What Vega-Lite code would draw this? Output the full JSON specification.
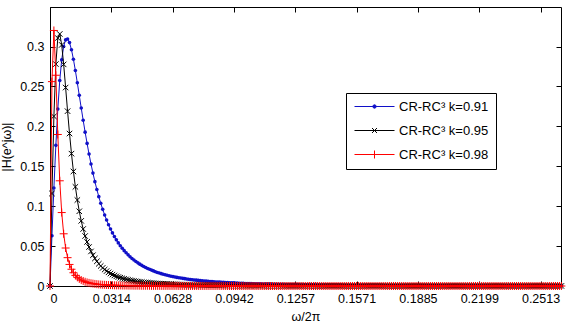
{
"$schema": "https://vega.github.io/schema/vega-lite/v6.json",
"width": 511, "height": 279,
"autosize": {"type": "none"},
"padding": {"left": 50, "top": 7, "right": 20, "bottom": 44},
"background": "white",
"config": {
 "font": "Liberation Sans",
 "view": {"stroke": "#000", "strokeWidth": 1},
 "axis": {"domainColor": "#000", "tickColor": "#000", "labelColor": "#000", "titleColor": "#000", "labelFont": "Liberation Sans", "titleFont": "Liberation Sans", "labelFontSize": 12.5, "titleFontSize": 12.5, "titleFontWeight": "normal", "grid": false, "tickSize": -5, "labelPadding": 11}
},
"data": {"values": [
{"f":0,"a":0,"b":0,"c":0},
{"f":0.001,"a":0.0630,"b":0.1159,"c":0.2560},
{"f":0.002,"a":0.1227,"b":0.2125,"c":0.3201},
{"f":0.003,"a":0.1762,"b":0.2780,"c":0.2640},
{"f":0.004,"a":0.2216,"b":0.3106,"c":0.1898},
{"f":0.005,"a":0.2574,"b":0.3157,"c":0.1318},
{"f":0.006,"a":0.2834,"b":0.3020,"c":0.0920},
{"f":0.007,"a":0.3001,"b":0.2776,"c":0.0654},
{"f":0.008,"a":0.3083,"b":0.2486,"c":0.0476},
{"f":0.009,"a":0.3095,"b":0.2190,"c":0.0355},
{"f":0.010,"a":0.3049,"b":0.1910,"c":0.0270},
{"f":0.011,"a":0.2960,"b":0.1658,"c":0.0210},
{"f":0.012,"a":0.2840,"b":0.1435,"c":0.0166},
{"f":0.013,"a":0.2699,"b":0.1242,"c":0.0133},
{"f":0.014,"a":0.2546,"b":0.1077,"c":0.0108},
{"f":0.015,"a":0.2388,"b":0.0936,"c":0.0089},
{"f":0.016,"a":0.2230,"b":0.0816,"c":0.0074},
{"f":0.017,"a":0.2076,"b":0.0714,"c":0.0063},
{"f":0.018,"a":0.1927,"b":0.0626,"c":0.0053},
{"f":0.019,"a":0.1786,"b":0.0552,"c":0.0045},
{"f":0.020,"a":0.1653,"b":0.0488,"c":0.0039},
{"f":0.021,"a":0.1529,"b":0.0433,"c":0.0034},
{"f":0.022,"a":0.1414,"b":0.0386,"c":0.0030},
{"f":0.023,"a":0.1307,"b":0.0345,"c":0.0026},
{"f":0.024,"a":0.1209,"b":0.0309,"c":0.0023},
{"f":0.025,"a":0.1119,"b":0.0278,"c":0.0020},
{"f":0.026,"a":0.1036,"b":0.0251,"c":0.0018},
{"f":0.027,"a":0.0960,"b":0.0227,"c":0.0016},
{"f":0.028,"a":0.0890,"b":0.0206,"c":0.0015},
{"f":0.029,"a":0.0826,"b":0.0187,"c":0.0013},
{"f":0.030,"a":0.0767,"b":0.0171,"c":0.0012},
{"f":0.031,"a":0.0714,"b":0.0156,"c":0.0011},
{"f":0.032,"a":0.0665,"b":0.0143,"c":0.0010},
{"f":0.033,"a":0.0619,"b":0.0132,"c":0.0009},
{"f":0.034,"a":0.0578,"b":0.0121,"c":0.0008},
{"f":0.035,"a":0.0540,"b":0.0112,"c":0.0008},
{"f":0.036,"a":0.0505,"b":0.0104,"c":0.0007},
{"f":0.037,"a":0.0473,"b":0.0096,"c":0.0006},
{"f":0.038,"a":0.0443,"b":0.0089,"c":0.0006},
{"f":0.039,"a":0.0416,"b":0.0083,"c":0.0006},
{"f":0.040,"a":0.0390,"b":0.0077,"c":0.0005},
{"f":0.041,"a":0.0367,"b":0.0072,"c":0.0005},
{"f":0.042,"a":0.0345,"b":0.0067,"c":0.0005},
{"f":0.043,"a":0.0325,"b":0.0063,"c":0.0004},
{"f":0.044,"a":0.0307,"b":0.0059,"c":0.0004},
{"f":0.045,"a":0.0290,"b":0.0055,"c":0.0004},
{"f":0.046,"a":0.0274,"b":0.0052,"c":0.0004},
{"f":0.047,"a":0.0259,"b":0.0049,"c":0.0003},
{"f":0.048,"a":0.0245,"b":0.0046,"c":0.0003},
{"f":0.049,"a":0.0232,"b":0.0043,"c":0.0003},
{"f":0.050,"a":0.0220,"b":0.0041,"c":0.0003},
{"f":0.051,"a":0.0209,"b":0.0039,"c":0.0003},
{"f":0.052,"a":0.0199,"b":0.0037,"c":0.0002},
{"f":0.053,"a":0.0189,"b":0.0035,"c":0.0002},
{"f":0.054,"a":0.0179,"b":0.0033,"c":0.0002},
{"f":0.055,"a":0.0170,"b":0.0031,"c":0.0002},
{"f":0.056,"a":0.0163,"b":0.0030,"c":0.0002},
{"f":0.057,"a":0.0155,"b":0.0028,"c":0.0002},
{"f":0.058,"a":0.0148,"b":0.0027,"c":0.0002},
{"f":0.059,"a":0.0141,"b":0.0025,"c":0.0002},
{"f":0.060,"a":0.0135,"b":0.0024,"c":0.0002},
{"f":0.061,"a":0.0129,"b":0.0023,"c":0.0002},
{"f":0.062,"a":0.0123,"b":0.0022,"c":0.0002},
{"f":0.063,"a":0.0118,"b":0.0021,"c":0.0002},
{"f":0.064,"a":0.0113,"b":0.0020,"c":0.0002},
{"f":0.065,"a":0.0108,"b":0.0019,"c":0.0002},
{"f":0.066,"a":0.0104,"b":0.0018,"c":0.0001},
{"f":0.067,"a":0.0100,"b":0.0018,"c":0.0001},
{"f":0.068,"a":0.0096,"b":0.0017,"c":0.0001},
{"f":0.069,"a":0.0092,"b":0.0016,"c":0.0001},
{"f":0.070,"a":0.0088,"b":0.0015,"c":0.0001},
{"f":0.071,"a":0.0085,"b":0.0015,"c":0.0001},
{"f":0.072,"a":0.0082,"b":0.0014,"c":0.0001},
{"f":0.073,"a":0.0079,"b":0.0014,"c":0.0001},
{"f":0.074,"a":0.0076,"b":0.0013,"c":0.0001},
{"f":0.075,"a":0.0073,"b":0.0013,"c":0.0001},
{"f":0.076,"a":0.0070,"b":0.0012,"c":0.0001},
{"f":0.077,"a":0.0068,"b":0.0012,"c":0.0001},
{"f":0.078,"a":0.0065,"b":0.0011,"c":0.0001},
{"f":0.079,"a":0.0063,"b":0.0011,"c":0.0001},
{"f":0.080,"a":0.0061,"b":0.0011,"c":0.0001},
{"f":0.081,"a":0.0059,"b":0.0010,"c":0.0001},
{"f":0.082,"a":0.0057,"b":0.0010,"c":0.0001},
{"f":0.083,"a":0.0055,"b":0.0010,"c":0.0001},
{"f":0.084,"a":0.0053,"b":0.0009,"c":0.0001},
{"f":0.085,"a":0.0051,"b":0.0009,"c":0.0001},
{"f":0.086,"a":0.0050,"b":0.0009,"c":0.0001},
{"f":0.087,"a":0.0048,"b":0.0008,"c":0.0001},
{"f":0.088,"a":0.0047,"b":0.0008,"c":0.0001},
{"f":0.089,"a":0.0045,"b":0.0008,"c":0.0001},
{"f":0.090,"a":0.0044,"b":0.0007,"c":0.0001},
{"f":0.091,"a":0.0042,"b":0.0007,"c":0},
{"f":0.092,"a":0.0041,"b":0.0007,"c":0},
{"f":0.093,"a":0.0040,"b":0.0007,"c":0},
{"f":0.094,"a":0.0039,"b":0.0007,"c":0},
{"f":0.095,"a":0.0037,"b":0.0006,"c":0},
{"f":0.096,"a":0.0036,"b":0.0006,"c":0},
{"f":0.097,"a":0.0035,"b":0.0006,"c":0},
{"f":0.098,"a":0.0034,"b":0.0006,"c":0},
{"f":0.099,"a":0.0033,"b":0.0006,"c":0},
{"f":0.100,"a":0.0032,"b":0.0006,"c":0},
{"f":0.101,"a":0.0032,"b":0.0005,"c":0},
{"f":0.102,"a":0.0031,"b":0.0005,"c":0},
{"f":0.103,"a":0.0030,"b":0.0005,"c":0},
{"f":0.104,"a":0.0029,"b":0.0005,"c":0},
{"f":0.105,"a":0.0028,"b":0.0005,"c":0},
{"f":0.106,"a":0.0028,"b":0.0005,"c":0},
{"f":0.107,"a":0.0027,"b":0.0004,"c":0},
{"f":0.108,"a":0.0026,"b":0.0004,"c":0},
{"f":0.109,"a":0.0025,"b":0.0004,"c":0},
{"f":0.110,"a":0.0025,"b":0.0004,"c":0},
{"f":0.111,"a":0.0024,"b":0.0004,"c":0},
{"f":0.112,"a":0.0024,"b":0.0004,"c":0},
{"f":0.113,"a":0.0023,"b":0.0004,"c":0},
{"f":0.114,"a":0.0022,"b":0.0004,"c":0},
{"f":0.115,"a":0.0022,"b":0.0004,"c":0},
{"f":0.116,"a":0.0021,"b":0.0004,"c":0},
{"f":0.117,"a":0.0021,"b":0.0004,"c":0},
{"f":0.118,"a":0.0020,"b":0.0004,"c":0},
{"f":0.119,"a":0.0020,"b":0.0003,"c":0},
{"f":0.120,"a":0.0019,"b":0.0003,"c":0},
{"f":0.121,"a":0.0019,"b":0.0003,"c":0},
{"f":0.122,"a":0.0019,"b":0.0003,"c":0},
{"f":0.123,"a":0.0018,"b":0.0003,"c":0},
{"f":0.124,"a":0.0018,"b":0.0003,"c":0},
{"f":0.125,"a":0.0017,"b":0.0003,"c":0},
{"f":0.126,"a":0.0017,"b":0.0003,"c":0},
{"f":0.127,"a":0.0017,"b":0.0003,"c":0},
{"f":0.128,"a":0.0016,"b":0.0003,"c":0},
{"f":0.129,"a":0.0016,"b":0.0003,"c":0},
{"f":0.130,"a":0.0016,"b":0.0003,"c":0},
{"f":0.131,"a":0.0015,"b":0.0003,"c":0},
{"f":0.132,"a":0.0015,"b":0.0003,"c":0},
{"f":0.133,"a":0.0015,"b":0.0003,"c":0},
{"f":0.134,"a":0.0014,"b":0.0003,"c":0},
{"f":0.135,"a":0.0014,"b":0.0003,"c":0},
{"f":0.136,"a":0.0014,"b":0.0002,"c":0},
{"f":0.137,"a":0.0013,"b":0.0002,"c":0},
{"f":0.138,"a":0.0013,"b":0.0002,"c":0},
{"f":0.139,"a":0.0013,"b":0.0002,"c":0},
{"f":0.140,"a":0.0013,"b":0.0002,"c":0},
{"f":0.141,"a":0.0012,"b":0.0002,"c":0},
{"f":0.142,"a":0.0012,"b":0.0002,"c":0},
{"f":0.143,"a":0.0012,"b":0.0002,"c":0},
{"f":0.144,"a":0.0012,"b":0.0002,"c":0},
{"f":0.145,"a":0.0012,"b":0.0002,"c":0},
{"f":0.146,"a":0.0011,"b":0.0002,"c":0},
{"f":0.147,"a":0.0011,"b":0.0002,"c":0},
{"f":0.148,"a":0.0011,"b":0.0002,"c":0},
{"f":0.149,"a":0.0011,"b":0.0002,"c":0},
{"f":0.150,"a":0.0010,"b":0.0002,"c":0},
{"f":0.151,"a":0.0010,"b":0.0002,"c":0},
{"f":0.152,"a":0.0010,"b":0.0002,"c":0},
{"f":0.153,"a":0.0010,"b":0.0002,"c":0},
{"f":0.154,"a":0.0010,"b":0.0002,"c":0},
{"f":0.155,"a":0.0010,"b":0.0002,"c":0},
{"f":0.156,"a":0.0009,"b":0.0002,"c":0},
{"f":0.157,"a":0.0009,"b":0.0002,"c":0},
{"f":0.158,"a":0.0009,"b":0.0002,"c":0},
{"f":0.159,"a":0.0009,"b":0.0002,"c":0},
{"f":0.160,"a":0.0009,"b":0.0002,"c":0},
{"f":0.161,"a":0.0009,"b":0.0002,"c":0},
{"f":0.162,"a":0.0009,"b":0.0002,"c":0},
{"f":0.163,"a":0.0008,"b":0.0002,"c":0},
{"f":0.164,"a":0.0008,"b":0.0002,"c":0},
{"f":0.165,"a":0.0008,"b":0.0002,"c":0},
{"f":0.166,"a":0.0008,"b":0.0002,"c":0},
{"f":0.167,"a":0.0008,"b":0.0002,"c":0},
{"f":0.168,"a":0.0008,"b":0.0002,"c":0},
{"f":0.169,"a":0.0008,"b":0.0002,"c":0},
{"f":0.170,"a":0.0008,"b":0.0002,"c":0},
{"f":0.171,"a":0.0007,"b":0.0002,"c":0},
{"f":0.172,"a":0.0007,"b":0.0002,"c":0},
{"f":0.173,"a":0.0007,"b":0.0002,"c":0},
{"f":0.174,"a":0.0007,"b":0.0002,"c":0},
{"f":0.175,"a":0.0007,"b":0.0002,"c":0},
{"f":0.176,"a":0.0007,"b":0.0001,"c":0},
{"f":0.177,"a":0.0007,"b":0.0001,"c":0},
{"f":0.178,"a":0.0007,"b":0.0001,"c":0},
{"f":0.179,"a":0.0006,"b":0.0001,"c":0},
{"f":0.180,"a":0.0006,"b":0.0001,"c":0},
{"f":0.181,"a":0.0006,"b":0.0001,"c":0},
{"f":0.182,"a":0.0006,"b":0.0001,"c":0},
{"f":0.183,"a":0.0006,"b":0.0001,"c":0},
{"f":0.184,"a":0.0006,"b":0.0001,"c":0},
{"f":0.185,"a":0.0006,"b":0.0001,"c":0},
{"f":0.186,"a":0.0006,"b":0.0001,"c":0},
{"f":0.187,"a":0.0006,"b":0.0001,"c":0},
{"f":0.188,"a":0.0006,"b":0.0001,"c":0},
{"f":0.189,"a":0.0006,"b":0.0001,"c":0},
{"f":0.190,"a":0.0006,"b":0.0001,"c":0},
{"f":0.191,"a":0.0006,"b":0.0001,"c":0},
{"f":0.192,"a":0.0006,"b":0.0001,"c":0},
{"f":0.193,"a":0.0005,"b":0.0001,"c":0},
{"f":0.194,"a":0.0005,"b":0.0001,"c":0},
{"f":0.195,"a":0.0005,"b":0.0001,"c":0},
{"f":0.196,"a":0.0005,"b":0.0001,"c":0},
{"f":0.197,"a":0.0005,"b":0.0001,"c":0},
{"f":0.198,"a":0.0005,"b":0.0001,"c":0},
{"f":0.199,"a":0.0005,"b":0.0001,"c":0},
{"f":0.200,"a":0.0005,"b":0.0001,"c":0},
{"f":0.201,"a":0.0005,"b":0.0001,"c":0},
{"f":0.202,"a":0.0005,"b":0.0001,"c":0},
{"f":0.203,"a":0.0005,"b":0.0001,"c":0},
{"f":0.204,"a":0.0005,"b":0.0001,"c":0},
{"f":0.205,"a":0.0005,"b":0.0001,"c":0},
{"f":0.206,"a":0.0005,"b":0.0001,"c":0},
{"f":0.207,"a":0.0005,"b":0.0001,"c":0},
{"f":0.208,"a":0.0004,"b":0.0001,"c":0},
{"f":0.209,"a":0.0004,"b":0.0001,"c":0},
{"f":0.210,"a":0.0004,"b":0.0001,"c":0},
{"f":0.211,"a":0.0004,"b":0.0001,"c":0},
{"f":0.212,"a":0.0004,"b":0.0001,"c":0},
{"f":0.213,"a":0.0004,"b":0.0001,"c":0},
{"f":0.214,"a":0.0004,"b":0.0001,"c":0},
{"f":0.215,"a":0.0004,"b":0.0001,"c":0},
{"f":0.216,"a":0.0004,"b":0.0001,"c":0},
{"f":0.217,"a":0.0004,"b":0.0001,"c":0},
{"f":0.218,"a":0.0004,"b":0.0001,"c":0},
{"f":0.219,"a":0.0004,"b":0.0001,"c":0},
{"f":0.220,"a":0.0004,"b":0.0001,"c":0},
{"f":0.221,"a":0.0004,"b":0.0001,"c":0},
{"f":0.222,"a":0.0004,"b":0.0001,"c":0},
{"f":0.223,"a":0.0004,"b":0.0001,"c":0},
{"f":0.224,"a":0.0004,"b":0.0001,"c":0},
{"f":0.225,"a":0.0004,"b":0.0001,"c":0},
{"f":0.226,"a":0.0004,"b":0.0001,"c":0},
{"f":0.227,"a":0.0004,"b":0.0001,"c":0},
{"f":0.228,"a":0.0003,"b":0.0001,"c":0},
{"f":0.229,"a":0.0003,"b":0.0001,"c":0},
{"f":0.230,"a":0.0003,"b":0.0001,"c":0},
{"f":0.231,"a":0.0003,"b":0.0001,"c":0},
{"f":0.232,"a":0.0003,"b":0.0001,"c":0},
{"f":0.233,"a":0.0003,"b":0.0001,"c":0},
{"f":0.234,"a":0.0003,"b":0.0001,"c":0},
{"f":0.235,"a":0.0003,"b":0.0001,"c":0},
{"f":0.236,"a":0.0003,"b":0.0001,"c":0},
{"f":0.237,"a":0.0003,"b":0.0001,"c":0},
{"f":0.238,"a":0.0003,"b":0.0001,"c":0},
{"f":0.239,"a":0.0003,"b":0.0001,"c":0},
{"f":0.240,"a":0.0003,"b":0.0001,"c":0},
{"f":0.241,"a":0.0003,"b":0.0001,"c":0},
{"f":0.242,"a":0.0003,"b":0.0001,"c":0},
{"f":0.243,"a":0.0003,"b":0.0001,"c":0},
{"f":0.244,"a":0.0003,"b":0.0001,"c":0},
{"f":0.245,"a":0.0003,"b":0.0001,"c":0},
{"f":0.246,"a":0.0003,"b":0.0001,"c":0},
{"f":0.247,"a":0.0003,"b":0.0001,"c":0},
{"f":0.248,"a":0.0003,"b":0.0001,"c":0},
{"f":0.249,"a":0.0003,"b":0.0001,"c":0},
{"f":0.250,"a":0.0003,"b":0.0001,"c":0},
{"f":0.251,"a":0.0003,"b":0.0001,"c":0},
{"f":0.252,"a":0.0003,"b":0.0001,"c":0},
{"f":0.253,"a":0.0003,"b":0.0001,"c":0},
{"f":0.254,"a":0.0003,"b":0.0001,"c":0},
{"f":0.255,"a":0.0003,"b":0.0001,"c":0},
{"f":0.256,"a":0.0003,"b":0.0001,"c":0},
{"f":0.257,"a":0.0003,"b":0.0001,"c":0},
{"f":0.258,"a":0.0003,"b":0.0001,"c":0},
{"f":0.259,"a":0.0003,"b":0.0001,"c":0},
{"f":0.260,"a":0.0003,"b":0.0001,"c":0},
{"f":0.261,"a":0.0003,"b":0.0001,"c":0},
{"f":0.262,"a":0.0003,"b":0.0001,"c":0}
]},
"transform": [{"fold": ["a", "b", "c"], "as": ["s", "h"]}],
"encoding": {
 "x": {"field": "f", "type": "quantitative", "scale": {"domain": [0, 0.2618], "nice": false, "zero": false}},
 "y": {"field": "h", "type": "quantitative", "scale": {"domain": [0, 0.3495], "nice": false}}
},
"layer": [
 {
  "transform": [{"filter": "datum.s === 'a'"}],
  "mark": {"type": "line", "strokeWidth": 1},
  "encoding": {
   "x": {"field": "f", "type": "quantitative", "axis": {"orient": "bottom", "title": "ω/2π", "values": [0, 0.0314159, 0.0628319, 0.0942478, 0.1256637, 0.1570796, 0.1884956, 0.2199115, 0.2513274], "format": ".4~f", "titlePadding": 6}},
   "y": {"field": "h", "type": "quantitative", "axis": {"orient": "left", "title": "|H(e^jω)|", "values": [0, 0.05, 0.1, 0.15, 0.2, 0.25, 0.3], "format": ".2~f", "titlePadding": 6}},
   "color": {"field": "s", "type": "nominal", "scale": {"domain": ["a", "b", "c"], "range": ["#1010c8", "#000000", "#ff0000"]},
    "legend": {"orient": "none", "legendX": 296, "legendY": 86, "title": null, "strokeColor": "#000", "fillColor": "#fff", "padding": 7, "labelFont": "Liberation Sans", "labelFontSize": 13, "labelColor": "#000", "symbolSize": 100, "symbolStrokeWidth": 1, "symbolOffset": 15, "labelOffset": 18, "rowPadding": 10,
     "labelExpr": "datum.value === 'a' ? 'CR-RC³ k=0.91' : datum.value === 'b' ? 'CR-RC³ k=0.95' : 'CR-RC³ k=0.98'",
     "encode": {"symbols": {"update": {
      "shape": {"signal": "datum.value === 'a' ? 'M-4,0L4,0M-0.34,0A0.34,0.34 0 1,1 0.34,0A0.34,0.34 0 1,1 -0.34,0Z' : datum.value === 'b' ? 'M-4,0L4,0M-0.5,-0.5L0.5,0.5M-0.5,0.5L0.5,-0.5' : 'M-4,0L4,0M-0.8,0L0.8,0M0,-0.8L0,0.8'"},
      "fill": {"signal": "datum.value === 'a' ? '#1010c8' : 'transparent'"},
      "strokeWidth": {"value": 1}
     }}}
    }}
  }
 },
 {
  "transform": [{"filter": "datum.s === 'a'"}],
  "mark": {"type": "point", "filled": true, "size": 13, "color": "#1010c8", "opacity": 1},
  "encoding": {
   "x": {"field": "f", "type": "quantitative", "axis": {"orient": "top", "labels": false, "title": null, "domain": false, "values": [0, 0.0314159, 0.0628319, 0.0942478, 0.1256637, 0.1570796, 0.1884956, 0.2199115, 0.2513274]}},
   "y": {"field": "h", "type": "quantitative", "axis": {"orient": "right", "labels": false, "title": null, "domain": false, "values": [0, 0.05, 0.1, 0.15, 0.2, 0.25, 0.3]}}
  }
 },
 {
  "transform": [{"filter": "datum.s === 'b'"}],
  "mark": {"type": "line", "strokeWidth": 1},
  "encoding": {
   "x": {"field": "f", "type": "quantitative", "axis": null},
   "y": {"field": "h", "type": "quantitative", "axis": null},
   "color": {"field": "s", "type": "nominal"}
  }
 },
 {
  "transform": [{"filter": "datum.s === 'b'"}],
  "mark": {"type": "point", "shape": "M-1,-1L1,1M-1,1L1,-1", "filled": false, "size": 30, "color": "#000", "strokeWidth": 1, "opacity": 1},
  "encoding": {
   "x": {"field": "f", "type": "quantitative", "axis": null},
   "y": {"field": "h", "type": "quantitative", "axis": null}
  }
 },
 {
  "transform": [{"filter": "datum.s === 'c'"}],
  "mark": {"type": "line", "strokeWidth": 1},
  "encoding": {
   "x": {"field": "f", "type": "quantitative", "axis": null},
   "y": {"field": "h", "type": "quantitative", "axis": null},
   "color": {"field": "s", "type": "nominal"}
  }
 },
 {
  "transform": [{"filter": "datum.s === 'c'"}],
  "mark": {"type": "point", "shape": "M-1,0L1,0M0,-1L0,1", "filled": false, "size": 64, "color": "#ff0000", "strokeWidth": 1, "opacity": 1},
  "encoding": {
   "x": {"field": "f", "type": "quantitative", "axis": null},
   "y": {"field": "h", "type": "quantitative", "axis": null}
  }
 }
],
"resolve": {"axis": {"x": "independent", "y": "independent"}}
}
